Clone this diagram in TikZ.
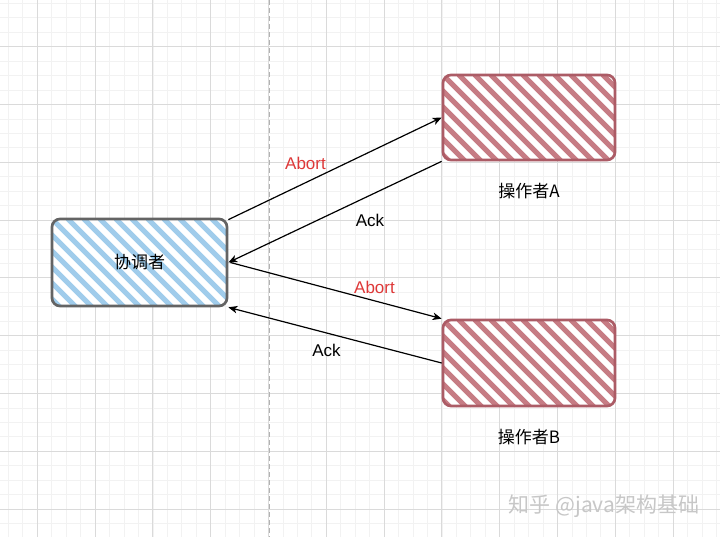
\documentclass[tikz,border=0pt]{standalone}
\usepackage{fontspec}
\setmainfont{Liberation Sans}
\newfontfamily\cjk{Noto Sans CJK SC}
\usetikzlibrary{positioning,arrows.meta,calc}
\usepackage{xcolor}

\definecolor{gridminor}{RGB}{242,242,242}
\definecolor{gridmajor}{RGB}{218,218,218}
\definecolor{coordhatch}{RGB}{160,204,235}
\definecolor{coordline}{RGB}{100,100,100}
\definecolor{parthatch}{RGB}{198,124,132}
\definecolor{partline}{RGB}{172,92,102}
\definecolor{abortred}{RGB}{222,56,56}

\begin{document}
\begin{tikzpicture}[
  x=1pt, y=-1pt,
  hatchbox/.style={draw=#1line, fill=white, line width=2.7pt, rounded corners=8pt,
    minimum width=174pt, minimum height=86pt, inner sep=0pt,
    font=\cjk\fontsize{17}{20}\selectfont,
    path picture={
      \foreach \k in {-7,...,12}
        \draw[#1hatch, line width=5.2pt, line cap=round]
          ($(path picture bounding box.north west)+(\k*16pt,0pt)$) -- ++(120pt,-120pt);
    }},
  caption/.style={inner sep=0pt, font=\cjk\fontsize{17}{20}\selectfont},
  msg/.style={-{Stealth[length=9pt, width=7.5pt, inset=2.5pt]}, line width=1.2pt},
  msglabel/.style={font=\fontsize{17}{20}\selectfont},
  minorgrid/.style={gridminor, line width=0.8pt},
  majorgrid/.style={gridmajor, line width=0.9pt}
]
  \useasboundingbox (0,0) rectangle (720,537);
  \fill[white] (0,0) rectangle (720,537);

  % grid
  \foreach \i in {0,...,49}
    \draw[minorgrid] ({8.4+\i*14.45},0) -- ++(0,537);
  \foreach \i in {0,...,36}
    \draw[minorgrid] (0,{3.35+\i*14.45}) -- ++(720,0);
  \foreach \j in {0,...,11}
    \draw[majorgrid] ({37.3+\j*57.8},0) -- ++(0,537);
  \foreach \j in {0,...,8}
    \draw[majorgrid] (0,{46.7+\j*57.8}) -- ++(720,0);
  \draw[black!30, line width=0.9pt, dash pattern=on 5pt off 3pt] (269,0) -- (269,537);

  % boxes
  \node[hatchbox=coord, minimum width=175pt, minimum height=87pt] (coord) at (139.5,262.5) {协调者};
  \node[hatchbox=part, minimum width=172pt, minimum height=85pt] (opA) at (529,117.5) {};
  \node[hatchbox=part, minimum width=172pt, minimum height=86pt] (opB) at (529,363) {};
  \node[caption, below=22pt of opA] (capA) {操作者A};
  \node[caption, below=22pt of opB] (capB) {操作者B};

  % messages
  \draw[msg] ([yshift=-2pt]coord.north east) -- (opA.west);
  \draw[msg] (opA.south west) -- (coord.east);
  \draw[msg] ([xshift=2pt]coord.east) -- (opB.north west);
  \draw[msg] (opB.west) -- (coord.south east);

  \node[msglabel, text=abortred] (abortA) at (305.5,163) {Abort};
  \node[msglabel] (ackA) at (370,220.5) {Ack};
  \node[msglabel, text=abortred] (abortB) at (374.5,287) {Abort};
  \node[msglabel] (ackB) at (326.5,350.5) {Ack};

  \node[font=\cjk\fontsize{21}{24}\selectfont, text=black!22] (mark) at (604,506) {知乎 @java架构基础};
\end{tikzpicture}
\end{document}
